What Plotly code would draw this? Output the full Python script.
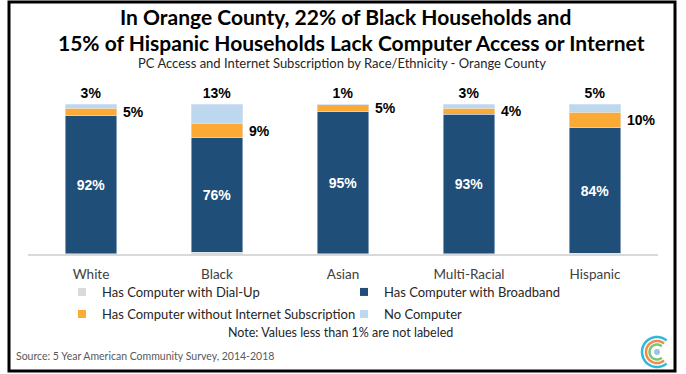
import numpy as np
import plotly.graph_objects as go

# datos (porcentaje de hogares)
groups = ["White", "Black", "Asian", "Multi-Racial", "Hispanic"]
dial_up = [0.3, 1.2, 0.1, 0.3, 0.4]
broadband = [91.8, 76.2, 94.6, 92.8, 83.8]
no_internet = [5.1, 9.3, 4.7, 4.1, 10.2]
no_computer = [2.8, 13.3, 0.6, 2.8, 5.3]

c_dial = "#D9D9D9"
c_broad = "#1F4E79"
c_noint = "#FBAA35"
c_nocomp = "#BDD7EE"

W, H = 686, 374
L, R, T, B = 28, 28, 104, 120
pw, ph = W - L - R, H - T - B


def px_x(x):
    return (x - L) / pw


def px_y(y):
    return (H - B - y) / ph


def texto(x, y, s, size, color, anchor="center"):
    fig.add_annotation(x=px_x(x), y=px_y(y), xref="paper", yref="paper", showarrow=False,
                       xanchor=anchor, yanchor="middle", text=s,
                       font=dict(family="Lato", size=size, color=color))


lbl_font = dict(family="Liberation Sans, Arial", size=14, color="black")

fig = go.Figure()
fig.add_trace(go.Bar(x=groups, y=dial_up, marker_color=c_dial, showlegend=False))
fig.add_trace(go.Bar(x=groups, y=broadband, marker_color=c_broad, showlegend=False,
                     texttemplate="<b>%{y:.0f}%</b>", textposition="inside",
                     insidetextanchor="middle", textangle=0,
                     insidetextfont=dict(family="Liberation Sans, Arial", size=14, color="white")))
fig.add_trace(go.Bar(x=groups, y=no_internet, marker_color=c_noint, showlegend=False))
fig.add_trace(go.Bar(x=groups, y=no_computer, marker_color=c_nocomp, showlegend=False,
                     texttemplate="<b>%{y:.0f}%</b>", textposition="outside",
                     textangle=0, outsidetextfont=lbl_font, cliponaxis=False))

# leyenda con cuadritos pequeños
legend_items = [("Has Computer with Dial-Up", c_dial, "legend"),
                ("Has Computer with Broadband", c_broad, "legend"),
                ("Has Computer without Internet Subscription", c_noint, "legend2"),
                ("No Computer", c_nocomp, "legend2")]
for name, col, lg in legend_items:
    fig.add_trace(go.Scatter(x=[None], y=[None], mode="markers", name=name, legend=lg,
                             marker=dict(symbol="square", size=8, color=col)))

# etiquetas a la derecha (sin internet)
for g, d, b, n in zip(groups, dial_up, broadband, no_internet):
    fig.add_annotation(x=g, y=d + b + n / 2, text=f"<b>{n:.0f}%</b>", showarrow=False,
                       xanchor="left", yanchor="middle", xshift=30, font=lbl_font)

texto(345, 17, "<b>In Orange County, 22% of Black Households and</b>", 21, "black")
texto(351, 42.5, "<b>15% of Hispanic Households Lack Computer Access or Internet</b>", 21, "black")
texto(342, 62.5, "PC Access and Internet Subscription by Race/Ethnicity - Orange County", 13, "#262626")
texto(340, 332, "Note: Values less than 1% are not labeled", 12.5, "#262626")
texto(14, 356, "Source: 5 Year American Community Survey, 2014-2018", 10.5, "#595959", "left")

# marco negro
fig.add_shape(type="rect", xref="paper", yref="paper", x0=px_x(9), x1=px_x(675),
              y0=px_y(371), y1=px_y(2), line=dict(color="black", width=3))

# logo (arcos concentricos)
cx, cy = 657, 352
t = np.linspace(np.radians(50), np.radians(310), 40)
for r, col in [(15, "#2FB8D8"), (11, "#F08A4B"), (7.5, "#7CC576")]:
    pts = [f"{px_x(cx + r * np.cos(a)):.5f},{px_y(cy - r * np.sin(a)):.5f}" for a in t]
    fig.add_shape(type="path", xref="paper", yref="paper", path="M" + " L".join(pts),
                  line=dict(color=col, width=2.5))
fig.add_shape(type="circle", xref="paper", yref="paper", x0=px_x(cx - 3), x1=px_x(cx + 3),
              y0=px_y(cy + 3), y1=px_y(cy - 3), fillcolor="#9CC3E6", line_width=0)

leg = dict(orientation="h", x=px_x(62), xanchor="left", yanchor="middle",
           entrywidth=237, entrywidthmode="pixels", bgcolor="rgba(0,0,0,0)",
           font=dict(family="Lato", size=13, color="#262626"), itemwidth=30,
           tracegroupgap=0, traceorder="normal")

fig.update_layout(
    width=W, height=H, margin=dict(l=L, r=R, t=T, b=B, autoexpand=False),
    barmode="stack", bargap=0.595,
    plot_bgcolor="white", paper_bgcolor="white",
    xaxis=dict(showline=True, linecolor="#D9D9D9", linewidth=2, ticks="",
               tickfont=dict(family="Lato", size=13.5, color="#404040"),
               ticklabelstandoff=7, showgrid=False),
    yaxis=dict(range=[0, 100], visible=False),
    legend=dict(leg, y=px_y(292)),
    legend2=dict(leg, y=px_y(314)),
    showlegend=True,
)

fig.write_html("out.html", config={"displayModeBar": False},
               post_script="document.body.style.margin='0';")
